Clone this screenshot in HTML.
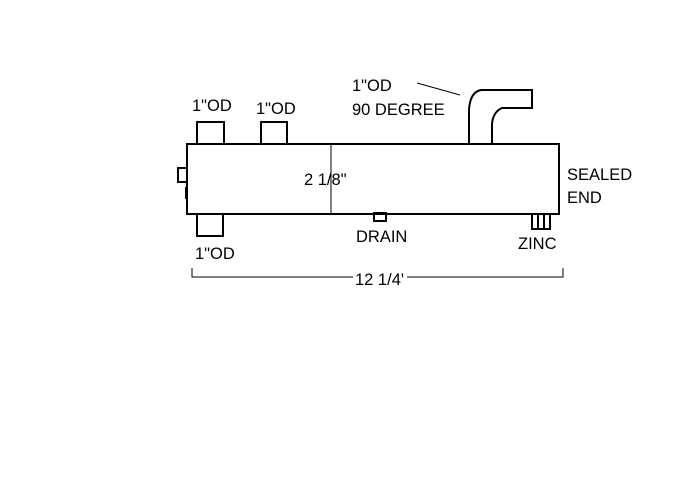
<!DOCTYPE html>
<html><head><style>
html,body{margin:0;padding:0;background:#fff;}
svg{display:block}
text{font-family:"Liberation Sans",Arial,sans-serif;font-size:16.5px;fill:#000}
</style></head><body>
<svg width="700" height="492" viewBox="0 0 700 492" xmlns="http://www.w3.org/2000/svg">
<g fill="none" stroke="#000" stroke-width="2">
<rect x="187" y="144" width="372" height="70"/>
<rect x="197" y="122" width="27" height="22"/>
<rect x="261" y="122" width="26" height="22"/>
<rect x="197" y="214" width="26" height="22"/>
<rect x="178" y="168" width="9" height="14"/>
<line x1="186" y1="187" x2="186" y2="199"/>
<rect x="374" y="213" width="12" height="8"/>
<rect x="532" y="214" width="18" height="15"/>
<line x1="538" y1="214" x2="538" y2="229"/>
<line x1="544" y1="214" x2="544" y2="229"/>
<path d="M469 144 L469 110 Q470 92 481 90 L532 90 L532 108 L502 108 Q493 112 492 124 L492 144"/>
</g>
<g stroke="#000" stroke-width="1" fill="none">
<line x1="331" y1="144" x2="331" y2="214"/>
<line x1="417" y1="83" x2="460" y2="95"/>
<path d="M192 268 L192 277 L353 277 M407 277 L563 277 L563 268"/>
</g>
<text x="192" y="111">1"OD</text>
<text x="256" y="114">1"OD</text>
<text x="352" y="91">1"OD</text>
<text x="352" y="115">90 DEGREE</text>
<text x="304" y="185">2 1/8"</text>
<text x="567" y="180">SEALED</text>
<text x="567" y="203">END</text>
<text x="356" y="242">DRAIN</text>
<text x="518" y="249">ZINC</text>
<text x="195" y="259">1"OD</text>
<text x="355" y="285">12 1/4'</text>
</svg>
</body></html>
